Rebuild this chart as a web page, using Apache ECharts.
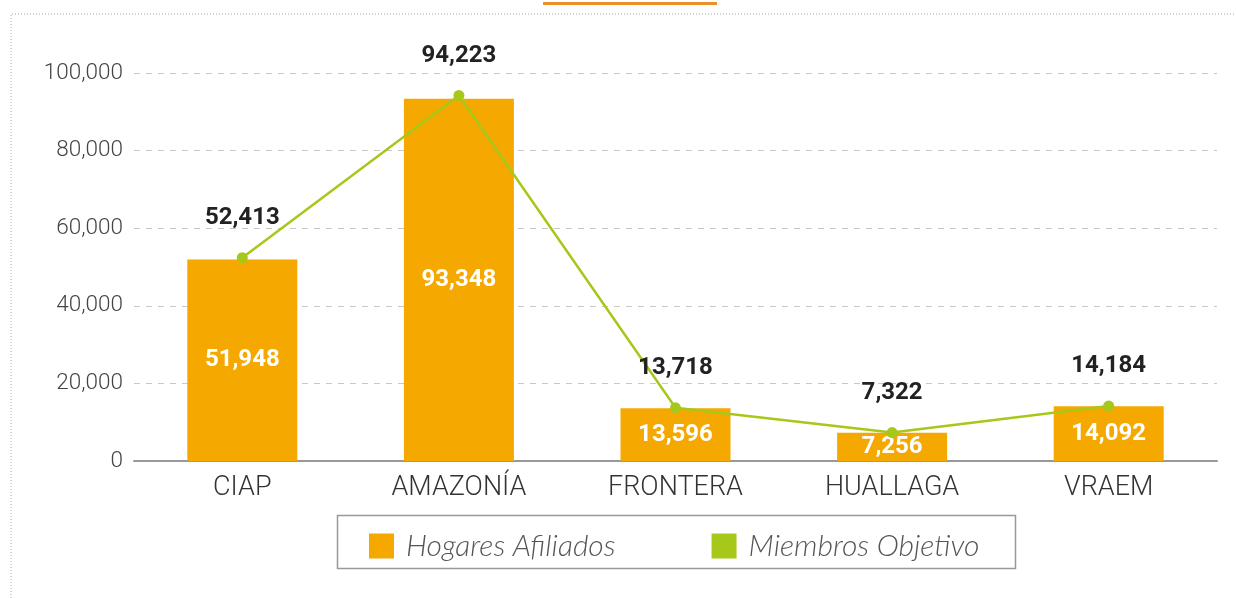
<!DOCTYPE html>
<html>
<head>
<meta charset="utf-8">
<title>Hogares Afiliados / Miembros Objetivo</title>
<script src="https://cdn.jsdelivr.net/npm/echarts@6/dist/echarts.min.js"></script>
<style>
  html, body { margin: 0; padding: 0; background: #fff; }
  #chart { width: 1236px; height: 598px; }
</style>
</head>
<body>
<div id="chart"></div>
<script>
// datos
const regiones = ['CIAP', 'AMAZONÍA', 'FRONTERA', 'HUALLAGA', 'VRAEM']
const hogaresAfiliados = [51948, 93348, 13596, 7256, 14092]
const miembrosObjetivo = [52413, 94223, 13718, 7322, 14184]
const yTicks = [0, 20000, 40000, 60000, 80000, 100000]

const fmt = v => v.toLocaleString('en-US')

const chart = echarts.init(document.getElementById('chart'))
chart.setOption({
  animation: false,
  textStyle: { fontFamily: 'Roboto' },
  grid: { left: 134, right: 19, top: 73, bottom: 137 },
  legend: {
    left: 364,
    top: 526,
    icon: 'rect',
    itemWidth: 25,
    itemHeight: 25,
    itemGap: 96,
    textStyle: {
      fontFamily: 'Lato',
      fontStyle: 'italic',
      fontWeight: 300,
      fontSize: 30,
      color: '#555',
      padding: [0, 0, 0, 7]
    },
    data: ['Hogares Afiliados', 'Miembros Objetivo']
  },
  graphic: [
    // marco punteado
    {
      type: 'polyline',
      shape: { points: [[11, 598], [11, 14], [1236, 14]] },
      style: { stroke: '#aaa', lineWidth: 1, lineDash: [1, 2], fill: null }
    },
    // barra naranja superior
    {
      type: 'rect',
      shape: { x: 543, y: 2, width: 174, height: 3 },
      style: { fill: '#ef8f2a' }
    },
    // caja de la leyenda
    {
      type: 'rect',
      shape: { x: 337.5, y: 515.5, width: 678, height: 53 },
      style: { fill: null, stroke: '#999', lineWidth: 1.5 }
    }
  ],
  xAxis: {
    type: 'category',
    data: regiones,
    axisTick: { show: false },
    axisLine: { lineStyle: { color: '#999', width: 2 } },
    axisLabel: {
      fontSize: 27,
      fontWeight: 300,
      color: '#333',
      margin: 14
    }
  },
  yAxis: {
    type: 'value',
    min: yTicks[0],
    max: yTicks[yTicks.length - 1],
    interval: yTicks[1] - yTicks[0],
    axisLine: { show: false },
    axisTick: { show: false },
    splitLine: { lineStyle: { color: '#c8c8c8', type: [6, 6], width: 1 } },
    axisLabel: {
      fontSize: 22.5,
      fontWeight: 300,
      color: '#444',
      margin: 11,
      formatter: v => fmt(v)
    }
  },
  series: [
    {
      name: 'Hogares Afiliados',
      type: 'bar',
      data: hogaresAfiliados,
      barWidth: 110,
      itemStyle: { color: '#f5a800' },
      label: {
        show: true,
        position: 'inside',
        color: '#fff',
        fontWeight: 'bold',
        fontSize: 24,
        formatter: p => fmt(p.value)
      }
    },
    {
      name: 'Miembros Objetivo',
      type: 'line',
      data: miembrosObjetivo,
      symbol: 'circle',
      symbolSize: 11,
      lineStyle: { color: '#a6c81a', width: 2.5 },
      itemStyle: { color: '#a6c81a' },
      label: {
        show: true,
        position: 'top',
        distance: 22,
        color: '#222',
        fontWeight: 'bold',
        fontSize: 24,
        formatter: p => fmt(p.value)
      }
    }
  ]
})
</script>
</body>
</html>
